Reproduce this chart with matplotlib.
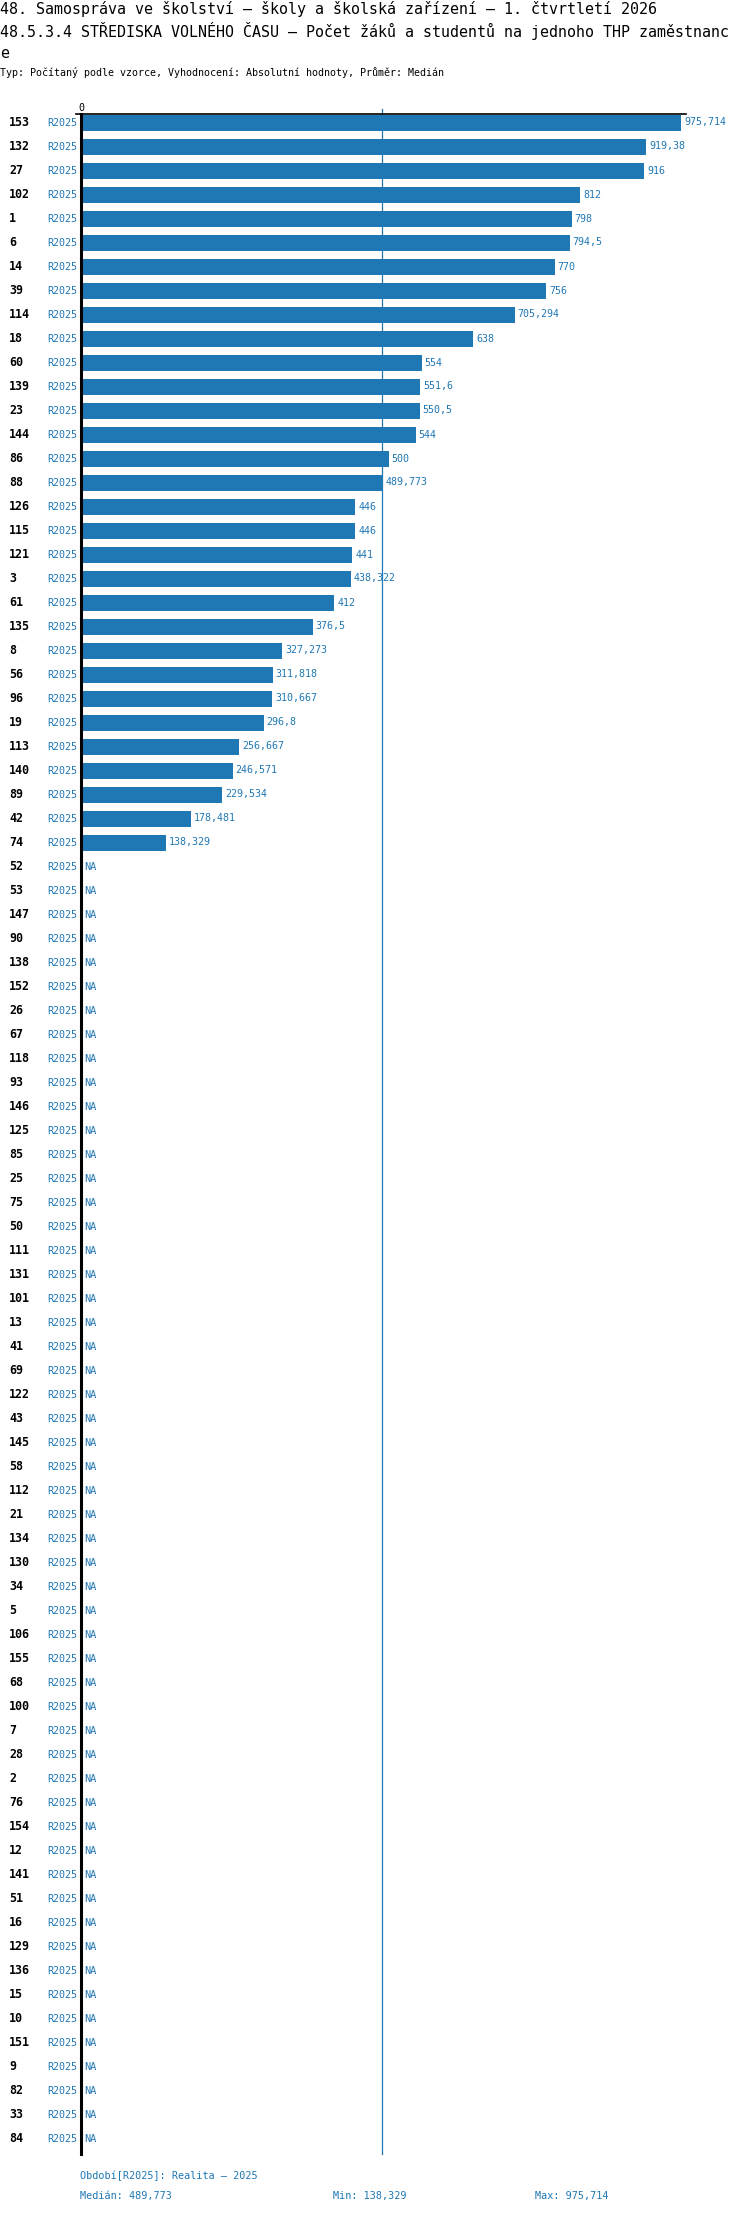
import matplotlib
matplotlib.use("Agg")
import matplotlib.pyplot as plt
import matplotlib.transforms as mtrans
from matplotlib.lines import Line2D
import numpy as np

# --- data ---
codes = [153, 132, 27, 102, 1, 6, 14, 39, 114, 18, 60, 139, 23, 144, 86, 88,
         126, 115, 121, 3, 61, 135, 8, 56, 96, 19, 113, 140, 89, 42, 74,
         52, 53, 147, 90, 138, 152, 26, 67, 118, 93, 146, 125, 85, 25, 75,
         50, 111, 131, 101, 13, 41, 69, 122, 43, 145, 58, 112, 21, 134, 130,
         34, 5, 106, 155, 68, 100, 7, 28, 2, 76, 154, 12, 141, 51, 16, 129,
         136, 15, 10, 151, 9, 82, 33, 84]
known_values = [975.714, 919.38, 916, 812, 798, 794.5, 770, 756, 705.294, 638,
                554, 551.6, 550.5, 544, 500, 489.773, 446, 446, 441, 438.322,
                412, 376.5, 327.273, 311.818, 310.667, 296.8, 256.667, 246.571,
                229.534, 178.481, 138.329]
values = known_values + [None] * (len(codes) - len(known_values))
period = "R2025"
median = 489.773
vmin = 138.329
vmax = 975.714

title1 = "48. Samospráva ve školství – školy a školská zařízení – 1. čtvrtletí 2026"
title2 = "48.5.3.4 STŘEDISKA VOLNÉHO ČASU – Počet žáků a studentů na jednoho THP zaměstnanc"
title3 = "e"
subtitle = "Typ: Počítaný podle vzorce, Vyhodnocení: Absolutní hodnoty, Průměr: Medián"


def fmt(v):
    s = f"{v:.3f}".rstrip("0").rstrip(".")
    return s.replace(".", ",")


BLUE = "#1f77b4"
FONT = "DejaVu Sans Mono"
W, H = 750, 2214

fig = plt.figure(figsize=(W / 100, H / 100), dpi=100)
plt.rcParams["font.family"] = FONT

# axes: left 81 px, right 686 px, top 114 px, bottom 2154 px
left_px, right_px, top_px, bot_px = 81, 686, 114, 2154
ax = fig.add_axes([left_px / W, 1 - bot_px / H,
                   (right_px - left_px) / W, (bot_px - top_px) / H])

n = len(codes)
pitch = 24.0
first_center = 122.5
y_top = (top_px - first_center) / pitch
y_bot = (bot_px - first_center) / pitch
scale = 0.615  # px per unit
xmax = (right_px - left_px) / scale

ax.set_xlim(0, xmax)
ax.set_ylim(y_bot, y_top)

ypos = np.arange(n)
bar_vals = [v if v is not None else 0 for v in values]
ax.barh(ypos, bar_vals, height=16 / pitch, color=BLUE, zorder=2)

# median line
ax.plot([median, median], [y_bot, (109 - first_center) / pitch],
        color=BLUE, lw=0.9, clip_on=False, zorder=1)

# value labels
for i, v in enumerate(values):
    if v is None:
        ax.annotate("NA", xy=(0, i), xytext=(3, 0), textcoords="offset pixels",
                    va="center", ha="left", color=BLUE, fontsize=7.4)
    else:
        ax.annotate(fmt(v), xy=(v, i), xytext=(3, 0), textcoords="offset pixels",
                    va="center", ha="left", color=BLUE, fontsize=7.2)

# row labels
tr = mtrans.blended_transform_factory(fig.transFigure, ax.transData)
for i, c in enumerate(codes):
    fig.text(9 / W, i, str(c), transform=tr, ha="left", va="center",
             fontsize=8.4, fontweight="bold", color="black")
    fig.text(77.5 / W, i, period, transform=tr, ha="right", va="center",
             fontsize=7.2, color=BLUE)

# spines / ticks
for s in ["right", "bottom"]:
    ax.spines[s].set_visible(False)
ax.spines["left"].set_linewidth(2.2)
ax.spines["left"].set_color("black")
ax.spines["top"].set_linewidth(1.2)
ax.spines["top"].set_color("black")
ax.xaxis.tick_top()
ax.set_xticks([0])
ax.set_xticklabels(["0"])
ax.tick_params(axis="x", length=0, pad=1, labelsize=7.2)
ax.set_yticks([])
fig.add_artist(Line2D([76 / W, left_px / W], [1 - top_px / H, 1 - top_px / H],
                      color="black", lw=1.2))

# titles
fig.text(0, 1 - 9 / H, title1, ha="left", va="center", fontsize=10.8, color="black")
fig.text(0, 1 - 31 / H, title2, ha="left", va="center", fontsize=10.8, color="black")
fig.text(0, 1 - 53 / H, title3, ha="left", va="center", fontsize=10.8, color="black")
fig.text(0, 1 - 73 / H, subtitle, ha="left", va="center", fontsize=7.2, color="black")

# footer
fig.text(80 / W, 1 - 2176 / H, f"Období[{period}]: Realita – 2025",
         ha="left", va="center", fontsize=7.3, color=BLUE)
fig.text(80 / W, 1 - 2196 / H, f"Medián: {fmt(median)}",
         ha="left", va="center", fontsize=7.3, color=BLUE)
fig.text(333 / W, 1 - 2196 / H, f"Min: {fmt(vmin)}",
         ha="left", va="center", fontsize=7.3, color=BLUE)
fig.text(535 / W, 1 - 2196 / H, f"Max: {fmt(vmax)}",
         ha="left", va="center", fontsize=7.3, color=BLUE)

fig.savefig("out.png", dpi=100)
